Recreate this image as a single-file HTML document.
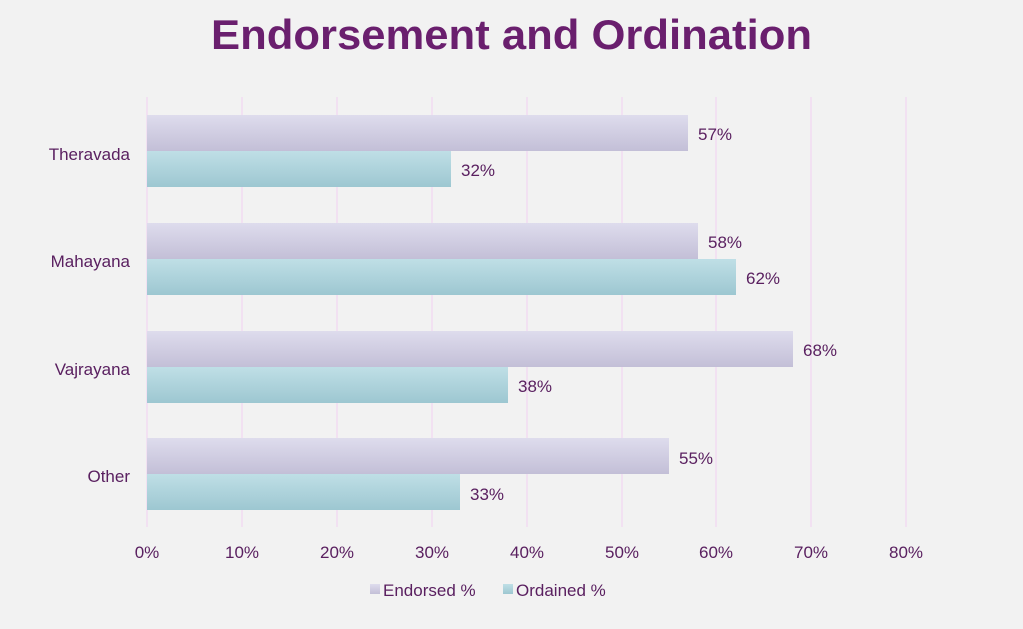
<!DOCTYPE html>
<html><head><meta charset="utf-8"><style>
html,body{margin:0;padding:0;background:#f3f3f3;}
svg{display:block;font-family:"Liberation Sans",sans-serif;}
</style></head><body>
<svg width="1023" height="629" viewBox="0 0 1023 629" xmlns="http://www.w3.org/2000/svg">
<defs>
<linearGradient id="ge" x1="0" y1="0" x2="0" y2="1"><stop offset="0" stop-color="#dedced"/><stop offset="1" stop-color="#c3bfd7"/></linearGradient>
<linearGradient id="go" x1="0" y1="0" x2="0" y2="1"><stop offset="0" stop-color="#bfdfe6"/><stop offset="1" stop-color="#9dc7d1"/></linearGradient>
</defs>
<rect width="1023" height="629" fill="#f2f2f2"/>
<text x="211" y="49" textLength="601" lengthAdjust="spacingAndGlyphs" font-size="42" font-weight="bold" fill="#6a1f6e">Endorsement and Ordination</text>
<g stroke="#f3d0f3" stroke-width="1">
<line x1="147" y1="97" x2="147" y2="527"/><line x1="242" y1="97" x2="242" y2="527"/><line x1="337" y1="97" x2="337" y2="527"/><line x1="432" y1="97" x2="432" y2="527"/><line x1="527" y1="97" x2="527" y2="527"/><line x1="622" y1="97" x2="622" y2="527"/><line x1="716" y1="97" x2="716" y2="527"/><line x1="811" y1="97" x2="811" y2="527"/><line x1="906" y1="97" x2="906" y2="527"/>
</g>
<g>
<rect x="147" y="115" width="541" height="36" fill="url(#ge)"/><rect x="147" y="151" width="304" height="36" fill="url(#go)"/>
<rect x="147" y="223" width="551" height="36" fill="url(#ge)"/><rect x="147" y="259" width="589" height="36" fill="url(#go)"/>
<rect x="147" y="331" width="646" height="36" fill="url(#ge)"/><rect x="147" y="367" width="361" height="36" fill="url(#go)"/>
<rect x="147" y="438" width="522" height="36" fill="url(#ge)"/><rect x="147" y="474" width="313" height="36" fill="url(#go)"/>
</g>
<g font-size="17" fill="#5a2060">
<text x="698" y="140">57%</text><text x="461" y="176">32%</text>
<text x="708" y="248">58%</text><text x="746" y="284">62%</text>
<text x="803" y="356">68%</text><text x="518" y="392">38%</text>
<text x="679" y="464">55%</text><text x="470" y="500">33%</text>
<g text-anchor="end"><text x="130" y="160">Theravada</text><text x="130" y="267">Mahayana</text><text x="130" y="375">Vajrayana</text><text x="130" y="482">Other</text></g>
<g text-anchor="middle"><text x="147" y="558">0%</text><text x="242" y="558">10%</text><text x="337" y="558">20%</text><text x="432" y="558">30%</text><text x="527" y="558">40%</text><text x="622" y="558">50%</text><text x="716" y="558">60%</text><text x="811" y="558">70%</text><text x="906" y="558">80%</text></g>
<rect x="370" y="584" width="10" height="10" fill="url(#ge)"/><text x="383" y="596">Endorsed %</text>
<rect x="503" y="584" width="10" height="10" fill="url(#go)"/><text x="516" y="596">Ordained %</text>
</g>
</svg>
</body></html>
